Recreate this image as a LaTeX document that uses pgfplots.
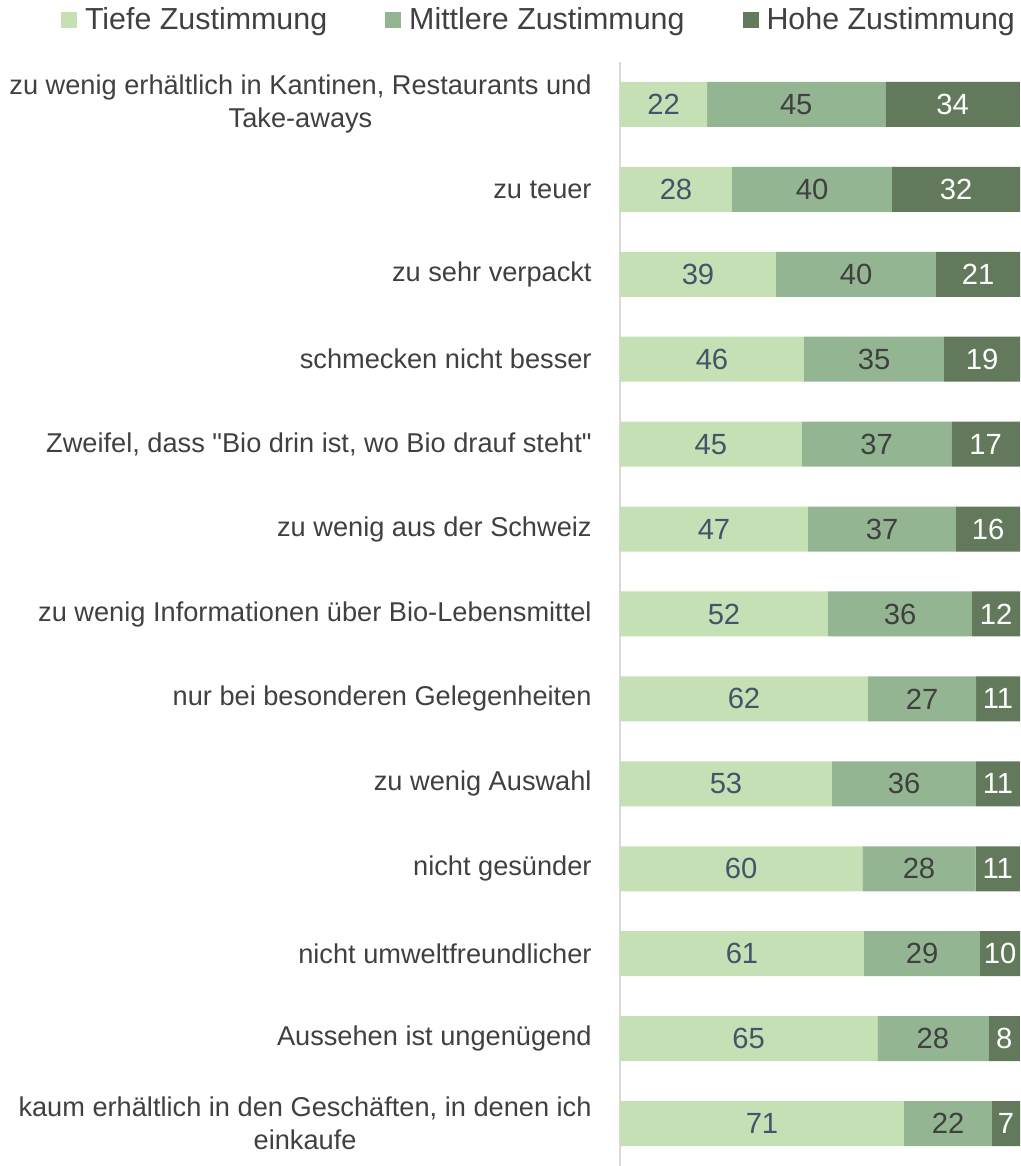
\documentclass[border=0pt]{standalone}
\usepackage{pgfplots}
\pgfplotsset{compat=1.18}
\usepackage{pgfplotstable}
\usepackage{fontspec}
\setmainfont{Liberation Sans}[Ligatures=TeXOff]
\definecolor{cLow}{HTML}{C5E0B4}
\definecolor{cMid}{HTML}{93B592}
\definecolor{cHigh}{HTML}{62795C}
\definecolor{txt}{HTML}{404040}
\definecolor{slate}{HTML}{44546A}
\definecolor{axisgray}{HTML}{D9D9D9}

\pgfplotstableread{
y t m h
12 22 45 34
11 28 40 32
10 39 40 21
9 46 35 19
8 45 37 17
7 47 37 16
6 52 36 12
5 62 27 11
4 53 36 11
3 60 28 11
2 61 29 10
1 65 28 8
0 71 22 7
}\datatable

\pgfplotsset{
  common/.style={
    at={(0,0)}, anchor=south west,
    scale only axis,
    width=200pt, height=552pt,
    xmin=0, xmax=100,
    ymin=-0.5, ymax=12.5,
  },
  lbl/.style={draw=none, mark=none, nodes near coords,
    point meta=explicit,
    every node near coord/.style={anchor=center, text=#1,
      font=\fontsize{14.6pt}{16pt}\selectfont}},
}

\begin{document}
\begin{tikzpicture}
\begin{axis}[
  common,
  xbar stacked,
  bar width=22.5pt,
  axis x line=none,
  axis y line=left,
  y axis line style={color=axisgray, line width=1pt, -},
  xtick=\empty,
  ytick={0,...,12},
  major tick length=0pt,
  yticklabels={
    {kaum erhältlich in den Geschäften, in denen ich\\einkaufe},
    Aussehen ist ungenügend,
    nicht umweltfreundlicher,
    nicht gesünder,
    zu wenig Auswahl,
    nur bei besonderen Gelegenheiten,
    zu wenig Informationen über Bio-Lebensmittel,
    zu wenig aus der Schweiz,
    {Zweifel, dass "Bio drin ist, wo Bio drauf steht"},
    schmecken nicht besser,
    zu sehr verpackt,
    zu teuer,
    {zu wenig erhältlich in Kantinen, Restaurants und\\Take-aways}
  },
  yticklabel style={anchor=east, align=center, inner sep=0pt, xshift=-14pt,
    font=\fontsize{13.6pt}{16.5pt}\selectfont, text=txt},
  legend columns=3,
  legend style={at={(-0.195,1.038)}, anchor=center, draw=none, fill=none,
    font=\fontsize{15.2pt}{17pt}\selectfont, text=txt,
    /tikz/every even column/.append style={column sep=25pt},
    inner sep=0pt, outer sep=0pt,
    nodes={inner xsep=4pt}},
  legend image code/.code={\fill[#1] (0pt,-4pt) rectangle (8pt,4pt);},
]
\addplot[fill=cLow, draw=none]
  table[y=y, x expr=\thisrow{t}*100/(\thisrow{t}+\thisrow{m}+\thisrow{h})] {\datatable};
\addplot[fill=cMid, draw=none]
  table[y=y, x expr=\thisrow{m}*100/(\thisrow{t}+\thisrow{m}+\thisrow{h})] {\datatable};
\addplot[fill=cHigh, draw=none]
  table[y=y, x expr=\thisrow{h}*100/(\thisrow{t}+\thisrow{m}+\thisrow{h})] {\datatable};
\legend{Tiefe Zustimmung, Mittlere Zustimmung, Hohe Zustimmung}
\end{axis}
\begin{axis}[common, hide axis, clip=false, /pgf/number format/assume math mode=true]
\addplot[lbl=slate]
  table[y=y, x expr=(\thisrow{t}/2)*100/(\thisrow{t}+\thisrow{m}+\thisrow{h}), meta=t] {\datatable};
\addplot[lbl=txt]
  table[y=y, x expr=(\thisrow{t}+\thisrow{m}/2)*100/(\thisrow{t}+\thisrow{m}+\thisrow{h}), meta=m] {\datatable};
\addplot[lbl=white]
  table[y=y, x expr=(\thisrow{t}+\thisrow{m}+\thisrow{h}/2)*100/(\thisrow{t}+\thisrow{m}+\thisrow{h}), meta=h] {\datatable};
\end{axis}
\pgfresetboundingbox
\useasboundingbox (-310pt,0pt) rectangle (200.5pt,583pt);
\end{tikzpicture}
\end{document}
